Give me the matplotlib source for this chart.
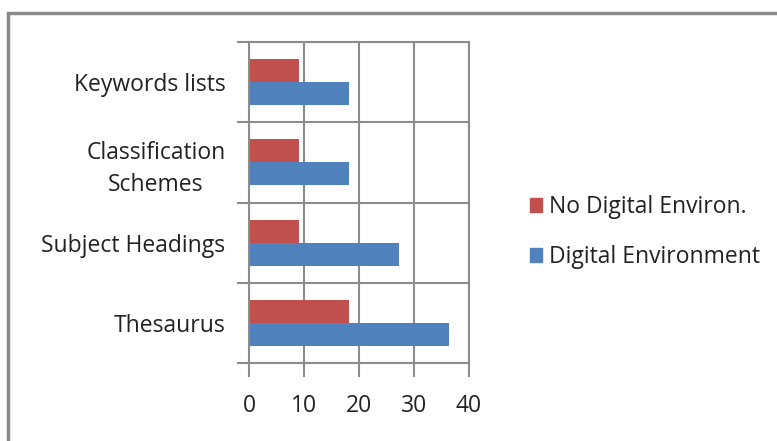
import numpy as np
import matplotlib.pyplot as plt
from matplotlib.patches import Patch, Rectangle

plt.rcParams['font.family'] = ['Open Sans', 'DejaVu Sans']

categories = ['Thesaurus', 'Subject Headings', 'Classification\nSchemes', 'Keywords lists']
no_digital = [18.2, 9.1, 9.1, 9.1]
digital = [36.4, 27.3, 18.2, 18.2]
series_names = ['No Digital Environ.', 'Digital Environment']
xticks = [0, 10, 20, 30, 40]

red = '#C0504D'
blue = '#4F81BD'
grid_col = '#8C8C8C'
txt = '#222222'

fig = plt.figure(figsize=(7.77, 4.41), dpi=100)
ax = fig.add_axes([249/777, 1 - 363/441, 220/777, 321/441])

y = np.arange(len(categories))
h = 0.2875
ax.barh(y - h/2, digital, height=h, color=blue, label=series_names[1])
ax.barh(y + h/2, no_digital, height=h, color=red, label=series_names[0])

ax.set_xlim(0, 40)
ax.set_ylim(-0.5, len(categories) - 0.5)
ax.set_xticks(xticks)
ax.set_xticklabels([str(t) for t in xticks], fontsize=16.5)

# category boundaries as major ticks, names on minor ticks
ax.set_yticks(np.arange(len(categories) + 1) - 0.5)
ax.set_yticklabels([])
ax.set_yticks(y, minor=True)
ax.set_yticklabels(categories, minor=True, fontsize=16.5)
for lab in ax.get_yticklabels(minor=True):
    lab.set_multialignment('center')
    lab.set_linespacing(1.4)
ax.tick_params(axis='y', which='minor', length=0, pad=17, labelcolor=txt)
ax.tick_params(axis='y', which='major', length=9, color=grid_col, width=1.5)
ax.tick_params(axis='x', length=10, color=grid_col, width=1.5, pad=12, labelcolor=txt)

ax.grid(True, which='major', color=grid_col, linewidth=1.5)
ax.set_axisbelow(True)
for side, sp in ax.spines.items():
    sp.set_color(grid_col)
    sp.set_linewidth(1.5)

handles = [Patch(color=red), Patch(color=blue)]
fig.legend(handles, series_names, loc='center left', bbox_to_anchor=(509/777, 1 - 232/441),
           frameon=False, fontsize=16.5, handlelength=0.55, handleheight=0.55,
           handletextpad=0.3, labelspacing=1.15, labelcolor=txt)

# outer chart frame (only top and left edges fall inside the image)
fig.patches.append(Rectangle((8/777, -0.1), 1.2, 1 - 13/441 + 0.1, transform=fig.transFigure,
                             fill=False, edgecolor='#8A8A8A', linewidth=2.5))

fig.savefig('out.png', dpi=100)
